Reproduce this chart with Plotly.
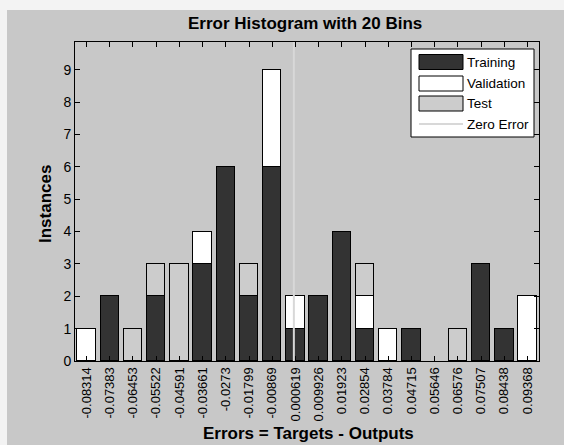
import plotly.graph_objects as go

# ---- data ----
bin_labels = ["-0.08314", "-0.07383", "-0.06453", "-0.05522", "-0.04591", "-0.03661",
              "-0.0273", "-0.01799", "-0.00869", "0.000619", "0.009926", "0.01923",
              "0.02854", "0.03784", "0.04715", "0.05646", "0.06576", "0.07507",
              "0.08438", "0.09368"]
training   = [0, 2, 0, 2, 0, 3, 6, 2, 6, 1, 2, 4, 1, 0, 1, 0, 0, 3, 1, 0]
validation = [1, 0, 0, 0, 0, 1, 0, 0, 3, 1, 0, 0, 1, 1, 0, 0, 0, 0, 0, 2]
test       = [0, 0, 1, 1, 3, 0, 0, 1, 0, 0, 0, 0, 1, 0, 0, 0, 1, 0, 0, 0]
y_ticks = [0, 1, 2, 3, 4, 5, 6, 7, 8, 9]
zero_error = 0.0

centers = [float(s) for s in bin_labels]
bw = (centers[-1] - centers[0]) / (len(centers) - 1)

C_TRAIN, C_VAL, C_TEST, C_ZERO = "#333333", "#ffffff", "#cccccc", "#d8d8d8"
FONT = "Liberation Sans, Arial, sans-serif"

# layout geometry (pixels)
W, H = 564, 445
L, R, T, B = 75, 539, 42, 361
def px(x):
    return (x - L) / (R - L)
def py(y):
    return (B - y) / (B - T)

fig = go.Figure()
for name, vals, col in [("Training", training, C_TRAIN),
                        ("Validation", validation, C_VAL),
                        ("Test", test, C_TEST)]:
    fig.add_trace(go.Bar(x=centers, y=[v if v else None for v in vals],
                         width=[bw * 0.8] * len(centers), name=name,
                         marker=dict(color=col, line=dict(color="#000000", width=1)),
                         showlegend=False))

fig.add_trace(go.Scatter(x=[zero_error, zero_error], y=[0, 9.86], mode="lines",
                         line=dict(color=C_ZERO, width=2), name="Zero Error",
                         showlegend=False))

shapes = [dict(type="rect", xref="paper", yref="paper", layer="below",
               x0=px(7), x1=px(W + 5), y0=py(H + 5), y1=py(10),
               fillcolor="#c8c8c8", line=dict(width=0))]
annotations = []

# legend box
lx0, lx1, ly0, ly1 = 411, 534, 49, 137
shapes.append(dict(type="rect", xref="paper", yref="paper", x0=px(lx0), x1=px(lx1),
                   y0=py(ly1), y1=py(ly0), fillcolor="#ffffff",
                   line=dict(color="#000000", width=1)))
items = [("Training", C_TRAIN, 62), ("Validation", C_VAL, 83.5), ("Test", C_TEST, 103.5)]
for name, col, yc in items:
    shapes.append(dict(type="rect", xref="paper", yref="paper", x0=px(419), x1=px(463),
                       y0=py(yc + 7.5), y1=py(yc - 7.5), fillcolor=col,
                       line=dict(color="#000000", width=1)))
    annotations.append(dict(text=name, xref="paper", yref="paper", x=px(465), y=py(yc),
                            xanchor="left", yanchor="middle", showarrow=False,
                            font=dict(family=FONT, size=13.5, color="#000")))
shapes.append(dict(type="line", xref="paper", yref="paper", x0=px(419), x1=px(463),
                   y0=py(124), y1=py(124), line=dict(color=C_ZERO, width=2)))
annotations.append(dict(text="Zero Error", xref="paper", yref="paper", x=px(465), y=py(124),
                        xanchor="left", yanchor="middle", showarrow=False,
                        font=dict(family=FONT, size=13.5, color="#000")))

# titles
annotations.append(dict(text="<b>Error Histogram with 20 Bins</b>", xref="paper", yref="paper",
                        x=px(305), y=py(24), xanchor="center", yanchor="middle",
                        showarrow=False, font=dict(family=FONT, size=17, color="#000")))
annotations.append(dict(text="<b>Instances</b>", xref="paper", yref="paper",
                        x=px(45), y=py(204), xanchor="center", yanchor="middle",
                        textangle=-90, showarrow=False,
                        font=dict(family=FONT, size=17, color="#000")))
annotations.append(dict(text="<b>Errors = Targets - Outputs</b>", xref="paper", yref="paper",
                        x=px(308), y=py(433.5), xanchor="center", yanchor="middle",
                        showarrow=False, font=dict(family=FONT, size=17, color="#000")))

fig.update_layout(
    width=W, height=H, autosize=False,
    margin=dict(l=L, r=W - R, t=T, b=H - B, pad=0),
    paper_bgcolor="#f3f3f3", plot_bgcolor="#ffffff",
    barmode="stack", bargap=0, showlegend=False,
    shapes=shapes, annotations=annotations,
    font=dict(family=FONT, size=13, color="#000"),
)
fig.update_xaxes(range=[centers[0] - bw / 2, centers[-1] + bw / 2],
                 tickmode="array", tickvals=centers, ticktext=bin_labels,
                 tickangle=-90, ticks="inside", ticklen=5, tickcolor="#000",
                 showline=True, linecolor="#000", linewidth=1, mirror="ticks",
                 showgrid=False, zeroline=False, tickfont=dict(size=13))
fig.update_yaxes(range=[0, 9.86], tickmode="array", tickvals=y_ticks,
                 ticks="inside", ticklen=5, tickcolor="#000",
                 showline=True, linecolor="#000", linewidth=1, mirror="ticks",
                 showgrid=False, zeroline=False, tickfont=dict(size=14))

fig.write_html("out.html")
